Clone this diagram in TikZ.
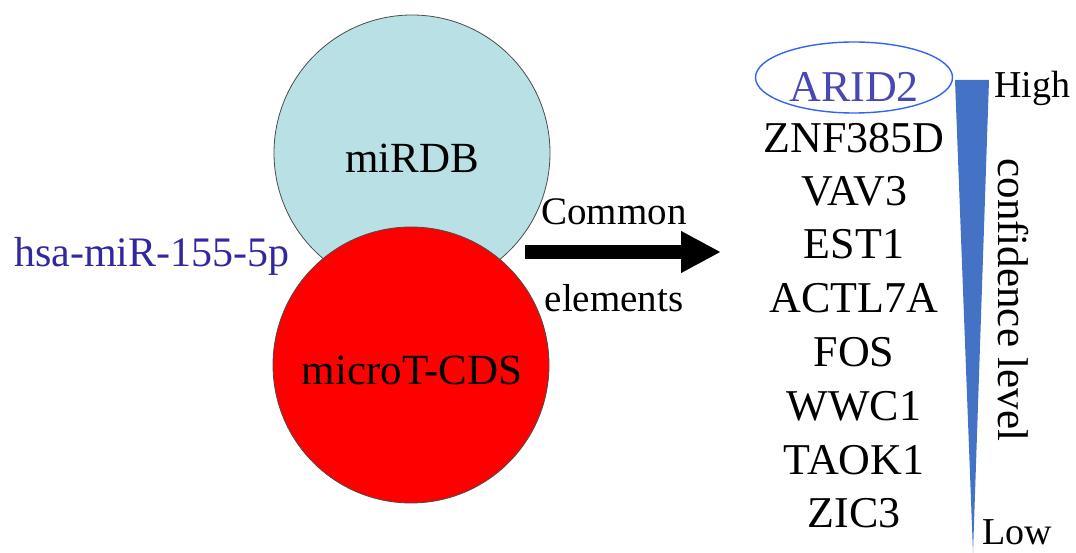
\documentclass[tikz,border=0pt]{standalone}
\usepackage{fontspec}
\setmainfont{Liberation Serif}
\usetikzlibrary{arrows.meta,shapes.geometric}
\definecolor{cyanfill}{RGB}{185,224,228}
\definecolor{mirblue}{RGB}{48,40,160}
\definecolor{aridblue}{RGB}{72,72,180}
\definecolor{ellblue}{RGB}{50,100,240}
\definecolor{tri}{RGB}{68,114,196}
\tikzset{
  venn/.style={circle, draw=black!70, line width=0.8pt, minimum size=276pt, inner sep=0pt},
  vlabel/.style={font=\fontsize{43}{43}\selectfont, inner sep=0pt},
  gene/.style={font=\fontsize{44}{44}\selectfont, inner sep=0pt, anchor=center},
  lbl/.style={font=\fontsize{39}{39}\selectfont, inner sep=0pt},
  bigarrow/.style={line width=14pt, -{Triangle[length=40pt,width=39pt]}}
}
\begin{document}
\begin{tikzpicture}[x=1pt,y=-1pt]
\useasboundingbox (0,0) rectangle (1076,553);
\node[venn, fill=cyanfill] (mirdb) at (412,153) {};
\node[venn, fill=red] (microt) at (411,365) {};
\node[vlabel] (mt) at (412,370) {microT-CDS};
\node[vlabel] (mt2) at (412,158) {miRDB};
\node[font=\fontsize{42}{42}\selectfont, text=mirblue, inner sep=0pt] (mir) at (152,256) {hsa-miR-155-5p};
\coordinate (as) at (525,252);
\coordinate (ae) at (721,252);
\draw[bigarrow] (as) -- (ae);
\node[lbl] (common) at (614,212) {Common};
\node[lbl] (elem) at (614,298) {elements};
\node[gene, text=aridblue] (g1) at (854,87) {ARID2};
\node[draw=ellblue, line width=1.4pt, ellipse, minimum width=197pt, minimum height=71pt] (ell) at (854,77.5) {};
\node[gene] (g2) at (854,138) {ZNF385D};
\node[gene] (g3) at (854,191) {VAV3};
\node[gene] (g4) at (854,244) {EST1};
\node[gene] (g5) at (854,298) {ACTL7A};
\node[gene] (g6) at (854,352) {FOS};
\node[gene] (g7) at (854,406) {WWC1};
\node[gene] (g8) at (854,460) {TAOK1};
\node[gene] (g9) at (854,513) {ZIC3};
\fill[tri] (955,80) -- (989,80) -- (973,553) -- cycle;
\node[lbl, font=\fontsize{38}{38}\selectfont] (high) at (1032,88) {High};
\node[lbl, font=\fontsize{38}{38}\selectfont] (low) at (1017,532) {Low};
\node[font=\fontsize{43}{43}\selectfont, rotate=-90, inner sep=0pt] (conf) at (1013,300) {confidence level};
\end{tikzpicture}
\end{document}
